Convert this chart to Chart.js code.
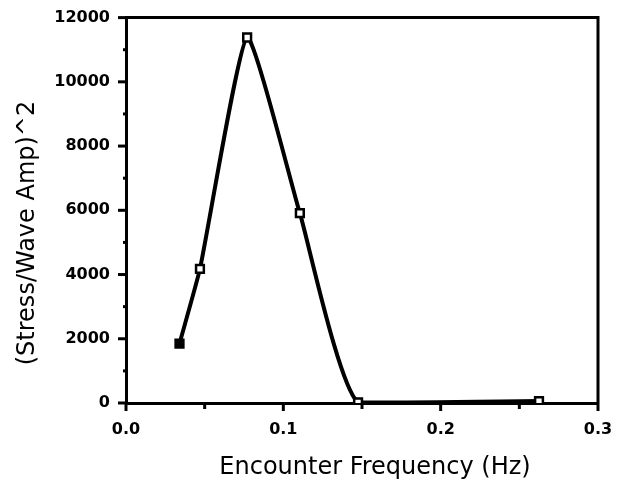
<!DOCTYPE html>
<html>
<head>
<meta charset="utf-8">
<script src="https://cdn.jsdelivr.net/npm/chart.js@4/dist/chart.umd.min.js"></script>
<style>
html,body{margin:0;padding:0;background:#fff;}
#wrap{width:619px;height:489px;}
</style>
</head>
<body>
<div id="wrap"><canvas id="c" width="619" height="489"></canvas></div>
<script>
const frequency = [0.034, 0.047, 0.077, 0.1105, 0.1475, 0.2625];
const stressAmp = [1850, 4175, 11380, 5910, 20, 60];
const xTickLabels = ['0.0', '0.1', '0.2', '0.3'];
const yTickLabels = ['0', '2000', '4000', '6000', '8000', '10000', '12000'];
const xTitle = 'Encounter Frequency (Hz)';
const yTitle = '(Stress/Wave Amp)^2';

const points = frequency.map((f, i) => ({x: f, y: stressAmp[i]}));

const tickPlugin = {
  id: 'ticksAndFrame',
  afterDraw(chart) {
    const ctx = chart.ctx;
    const xs = chart.scales.x, ys = chart.scales.y;
    const a = chart.chartArea;
    ctx.save();
    ctx.strokeStyle = '#000';
    ctx.lineWidth = 3;
    ctx.lineCap = 'butt';
    ctx.beginPath();
    ctx.moveTo(a.left, a.top); ctx.lineTo(a.right, a.top); ctx.lineTo(a.right, a.bottom);
    ctx.stroke();
    for (let v = 0; v <= 0.3001; v += 0.05) {
      const px = xs.getPixelForValue(v);
      const major = Math.abs(Math.round(v * 10) - v * 10) < 1e-6;
      ctx.beginPath();
      ctx.moveTo(px, a.bottom);
      ctx.lineTo(px, a.bottom + (major ? 8 : 6));
      ctx.stroke();
    }
    for (let v = 0; v <= 12000; v += 1000) {
      const py = ys.getPixelForValue(v);
      const major = v % 2000 === 0;
      ctx.beginPath();
      if (major) { ctx.moveTo(a.left - 8, py); ctx.lineTo(a.left, py); }
      else { ctx.moveTo(a.left - 3, py); ctx.lineTo(a.left + 2, py); }
      ctx.stroke();
    }
    ctx.fillStyle = '#000';
    ctx.font = '24px "DejaVu Sans"';
    ctx.textAlign = 'center';
    ctx.textBaseline = 'middle';
    ctx.fillText(xTitle, 375, 468);
    ctx.translate(28, 233);
    ctx.rotate(-Math.PI / 2);
    ctx.fillText(yTitle, 0, 0);
    ctx.restore();
  }
};

new Chart(document.getElementById('c'), {
  type: 'line',
  data: {
    datasets: [{
      data: points,
      borderColor: '#000',
      borderWidth: 4,
      tension: 0.15,
      pointStyle: 'rect',
      pointRadius: 5.5,
      pointBorderWidth: 2.5,
      pointBorderColor: '#000',
      pointBackgroundColor: ['#000', '#fff', '#fff', '#fff', '#fff', '#fff'],
      fill: false
    }]
  },
  options: {
    responsive: false,
    animation: false,
    devicePixelRatio: 1,
    layout: {padding: {top: 16, right: 21, left: 0, bottom: 0}},
    plugins: {legend: {display: false}, tooltip: {enabled: false}},
    scales: {
      x: {
        type: 'linear', min: 0, max: 0.3,
        afterBuildTicks(s) { s.ticks = xTickLabels.map(t => ({value: parseFloat(t)})); },
        afterFit(s) { s.height = 86; s.paddingRight = 0; s.paddingLeft = 0; },
        border: {display: true, color: '#000', width: 3},
        grid: {display: true, drawOnChartArea: false, drawTicks: true, tickLength: 8, tickColor: 'rgba(0,0,0,0)'},
        ticks: {
          color: '#000', padding: 9,
          font: {family: 'DejaVu Sans', size: 16, weight: 'bold'},
          callback: (v) => xTickLabels[Math.round(v * 10)]
        }
      },
      y: {
        type: 'linear', min: 0, max: 12000,
        afterBuildTicks(s) { s.ticks = yTickLabels.map(t => ({value: parseFloat(t)})); },
        afterFit(s) { s.width = 126; },
        border: {display: true, color: '#000', width: 3},
        grid: {display: true, drawOnChartArea: false, drawTicks: true, tickLength: 8, tickColor: 'rgba(0,0,0,0)'},
        ticks: {
          color: '#000', padding: 8,
          font: {family: 'DejaVu Sans', size: 16, weight: 'bold'},
          callback: (v) => yTickLabels[Math.round(v / 2000)]
        }
      }
    }
  },
  plugins: [tickPlugin]
});
</script>
</body>
</html>
